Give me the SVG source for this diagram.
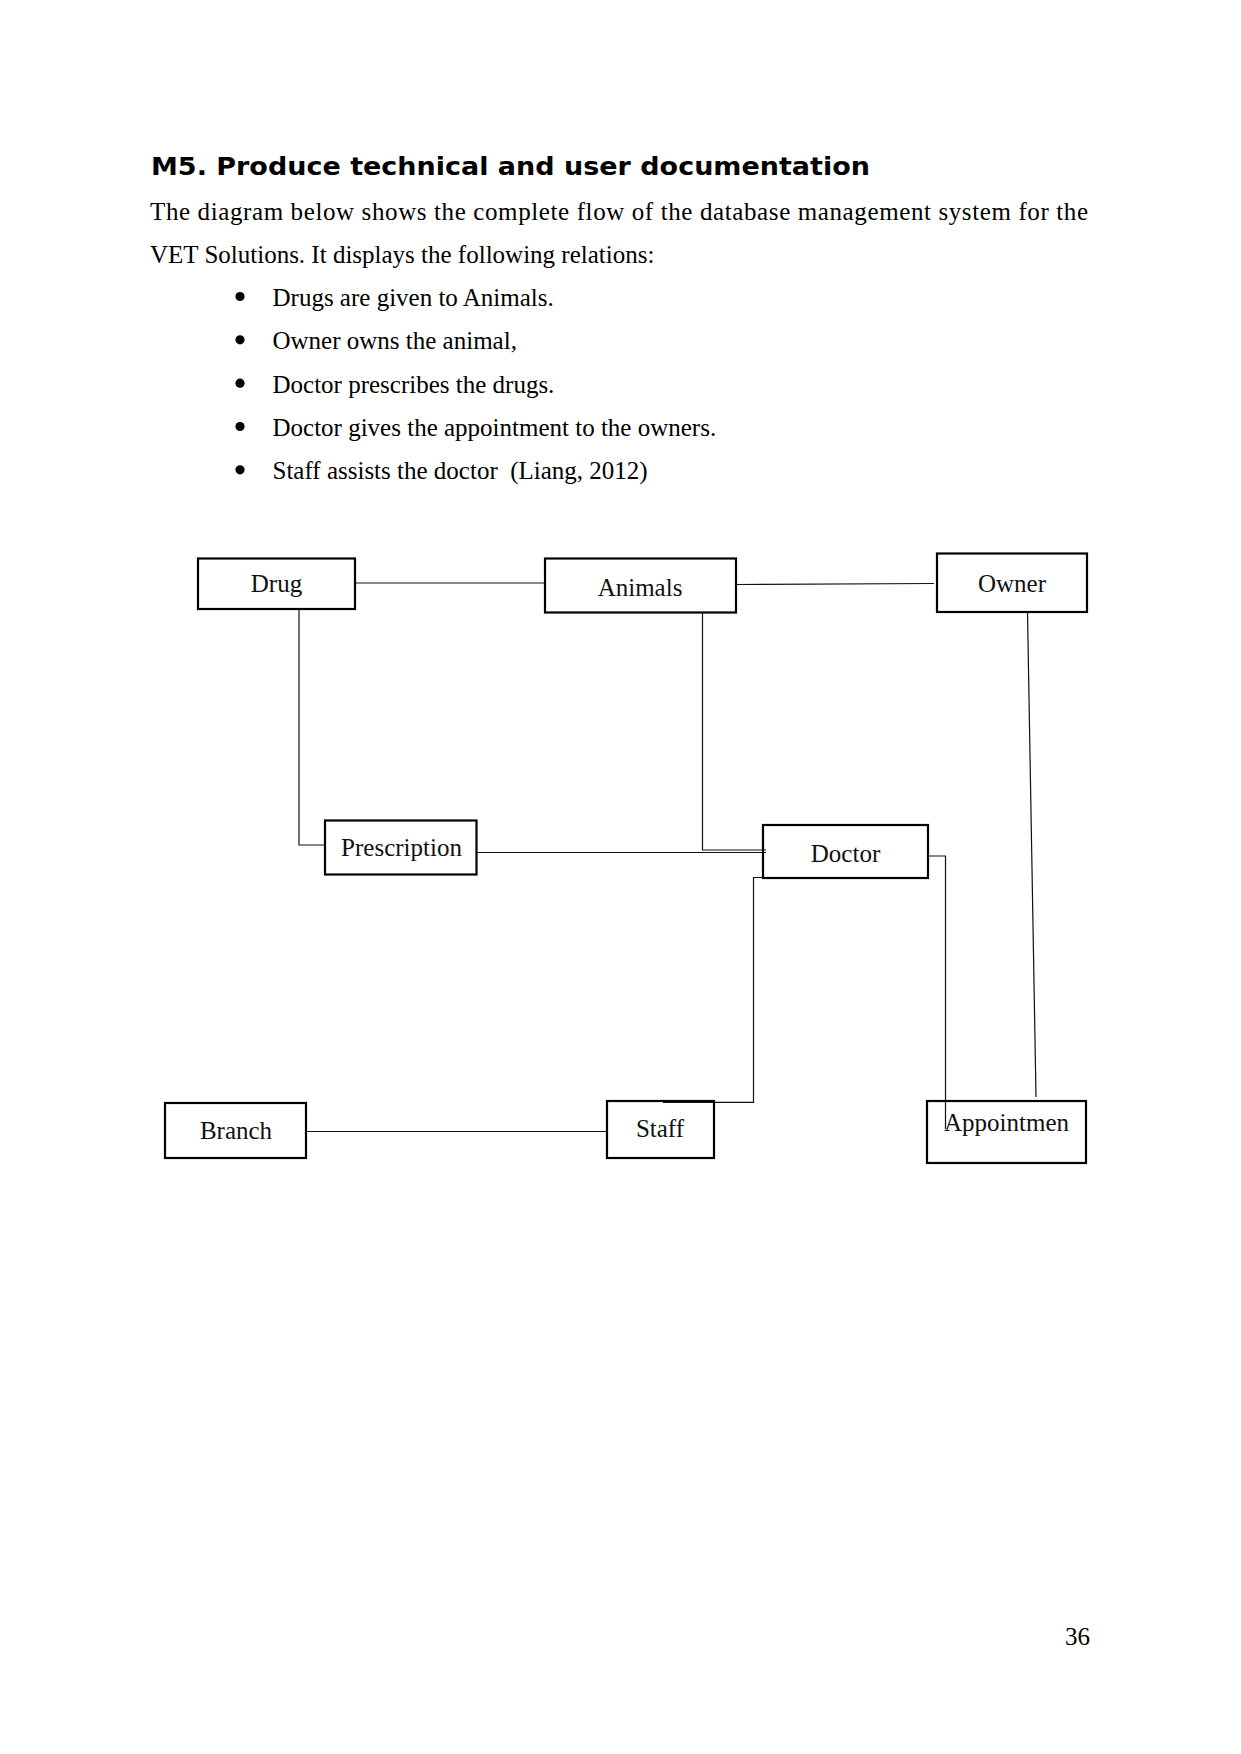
<svg xmlns="http://www.w3.org/2000/svg" width="1241" height="1754" viewBox="0 0 1241 1754">
<style>
.body{font-family:"Liberation Serif","Times New Roman",serif;font-size:25px;fill:#000}
.head{font-family:"DejaVu Sans",sans-serif;font-weight:bold;font-size:25px;fill:#000}
.box{fill:#fff;stroke:#000;stroke-width:2.2}
.lbl{font-family:"Liberation Serif","Times New Roman",serif;font-size:25px;fill:#111;text-anchor:middle}
.con{fill:none;stroke:#111;stroke-width:1.2}
</style>
<rect width="1241" height="1754" fill="#fff"/>
<text class="head" x="151" y="175" textLength="719" lengthAdjust="spacingAndGlyphs">M5. Produce technical and user documentation</text>
<text class="body" x="150" y="219.5" textLength="938" lengthAdjust="spacing">The diagram below shows the complete flow of the database management system for the</text>
<text class="body" x="150" y="262.8">VET Solutions. It displays the following relations:</text>
<g fill="#000">
<circle cx="240" cy="296.5" r="4.6"/>
<circle cx="240" cy="339.8" r="4.6"/>
<circle cx="240" cy="383.2" r="4.6"/>
<circle cx="240" cy="426.5" r="4.6"/>
<circle cx="240" cy="469.8" r="4.6"/>
</g>
<text class="body" x="272.5" y="306">Drugs are given to Animals.</text>
<text class="body" x="272.5" y="349.3">Owner owns the animal,</text>
<text class="body" x="272.5" y="392.7">Doctor prescribes the drugs.</text>
<text class="body" x="272.5" y="436">Doctor gives the appointment to the owners.</text>
<text class="body" x="272.5" y="479.3" xml:space="preserve">Staff assists the doctor  (Liang, 2012)</text>

<g id="drug"><rect class="box" x="198" y="558.5" width="157" height="50.5"/><text class="lbl" x="276.5" y="592">Drug</text></g>
<g id="animals"><rect class="box" x="545" y="558.5" width="191" height="54"/><text class="lbl" x="640" y="595.5">Animals</text></g>
<g id="owner"><rect class="box" x="937" y="553.5" width="150" height="58.5"/><text class="lbl" x="1012" y="591.5">Owner</text></g>
<g id="prescription"><rect class="box" x="325" y="820.5" width="151.5" height="54"/><text class="lbl" x="401.5" y="855.7">Prescription</text></g>
<g id="doctor"><rect class="box" x="763" y="825" width="165" height="53"/><text class="lbl" x="845.5" y="861.5">Doctor</text></g>
<g id="branch"><rect class="box" x="165" y="1103" width="141" height="55"/><text class="lbl" x="236" y="1139">Branch</text></g>
<g id="staff"><rect class="box" x="607" y="1101" width="107" height="57"/><text class="lbl" x="660" y="1137">Staff</text></g>
<g id="appointment"><rect class="box" x="927" y="1101" width="159" height="62"/><text class="lbl" x="1006.5" y="1131">Appointmen</text></g>

<g id="connectors">
<path class="con" d="M355 583 H545"/>
<path class="con" d="M736 584.5 L934 583.5"/>
<path class="con" d="M299 609 V845 H325"/>
<path class="con" d="M702.5 612 V850 H766"/>
<path class="con" d="M477 852.5 H766"/>
<path class="con" d="M928 856 H945.5 V1129"/>
<path class="con" d="M1027.5 612 L1036 1097"/>
<path class="con" d="M763 877.5 H753.5 V1102.3 H663"/>
<path class="con" d="M306 1131.5 H606.5"/>
</g>

<text class="body" x="1065" y="1645">36</text>
</svg>
